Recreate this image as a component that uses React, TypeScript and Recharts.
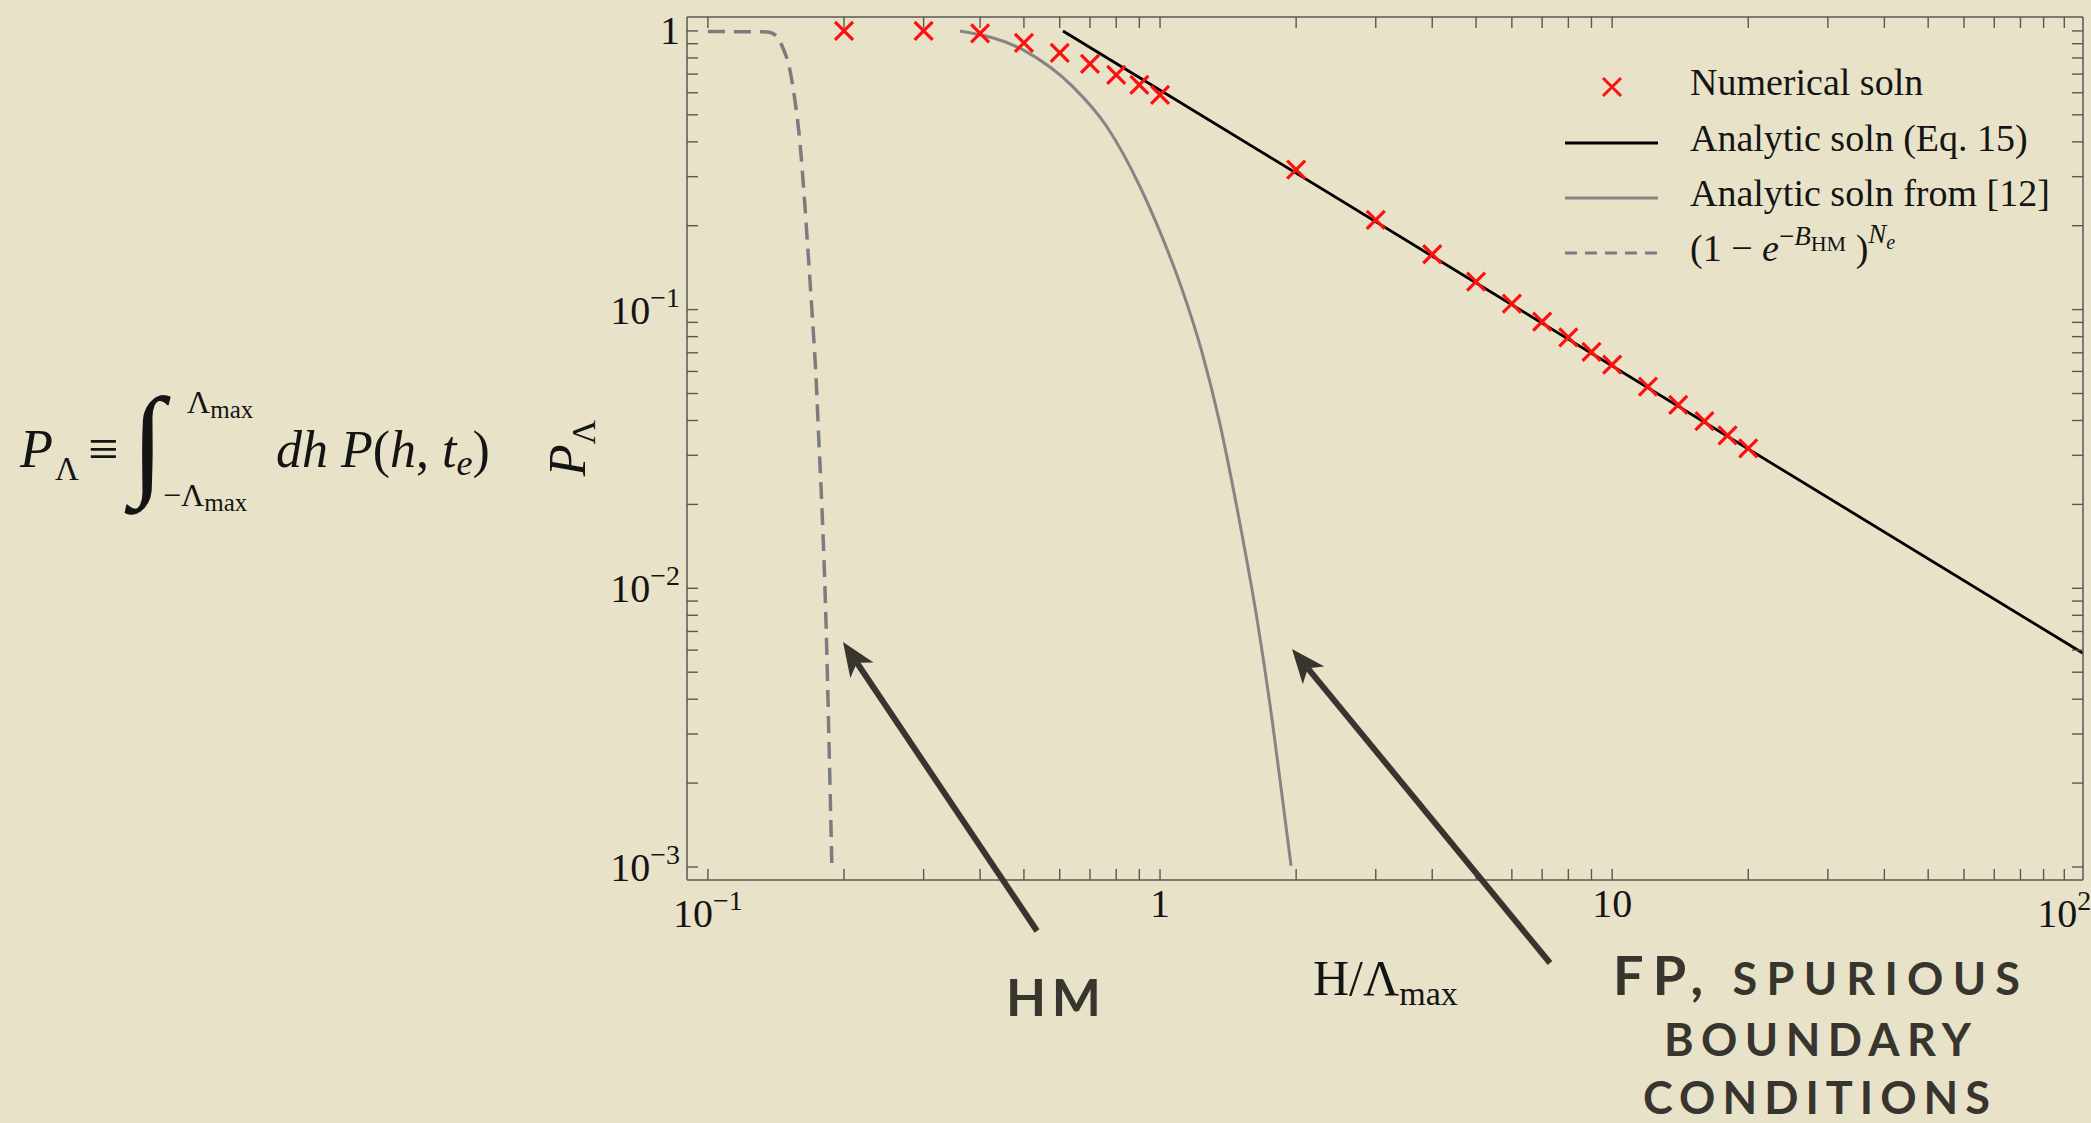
import { ComposedChart, XAxis, YAxis, Line, Scatter, Legend } from 'recharts';

// numerical solution (red crosses)
const numericalX = [0.2, 0.3, 0.4, 0.5, 0.6, 0.7, 0.8, 0.9, 1, 2, 3, 4, 5, 6, 7, 8, 9, 10, 12, 14, 16, 18, 20];
const numericalP = [
  1.0, 1.0, 0.98, 0.906, 0.834, 0.762, 0.696, 0.64, 0.59, 0.318, 0.21, 0.158, 0.126, 0.105, 0.0905, 0.0795,
  0.0705, 0.0635, 0.0529, 0.0455, 0.0398, 0.0354, 0.0318,
];

// analytic soln (Eq. 15), straight in log-log
const eq15X = [0.61, 110];
const eq15P = [1.0, 0.00585];

// analytic soln from [12]
const ref12X = [0.361, 0.498, 0.642, 0.763, 0.903, 1.01, 1.113, 1.239, 1.35, 1.496, 1.639, 1.769, 1.89, 1.949];
const ref12P = [1.0, 0.855, 0.63, 0.453, 0.276, 0.1827, 0.121, 0.0701, 0.0403, 0.0177, 0.00774, 0.00339, 0.00149, 0.00101];

// (1 - e^-B_HM)^N_e
const hmX = [0.1, 0.135, 0.1417, 0.1462, 0.1518, 0.1557, 0.1598, 0.1631, 0.1664, 0.1698, 0.1734, 0.176, 0.1788, 0.1824, 0.1852, 0.188];
const hmP = [0.995, 0.992, 0.96, 0.876, 0.725, 0.566, 0.397, 0.263, 0.164, 0.1, 0.0575, 0.0334, 0.0192, 0.00774, 0.00288, 0.00101];

// ticks
const xMajor = [0.1, 1, 10, 100];
const xMajorLabels = ['10|−1', '1', '10', '10|2'];
const yMajor = [0.001, 0.01, 0.1, 1];
const yMajorLabels = ['10|−3', '10|−2', '10|−1', '1'];
const minorSteps = [2, 3, 4, 5, 6, 7, 8, 9];

const legendLabels = ['Numerical soln', 'Analytic soln (Eq. 15)', 'Analytic soln from [12]'];

const toPoints = (xs: number[], ys: number[]) => xs.map((x, i) => ({ x, y: ys[i] }));
const withMinors = (major: number[]) =>
  [...major, ...major.slice(0, -1).flatMap((d) => minorSteps.map((m) => Number((d * m).toPrecision(3))))].sort(
    (a, b) => a - b,
  );

const numericalData = toPoints(numericalX, numericalP);
const eq15Data = toPoints(eq15X, eq15P);
const ref12Data = toPoints(ref12X, ref12P);
const hmData = toPoints(hmX, hmP);
const xTicks = withMinors(xMajor);
const yTicks = withMinors(yMajor);

const W = 2091;
const H = 1123;
const BG = '#e8e3c8';
const FRAME = '#5a5852';
const INK = '#141414';
const DARK = '#38352f';
const SERIF = '"Liberation Serif", "Times New Roman", serif';
const SANS = 'Lato, "Open Sans", sans-serif';
const TICK = 11;
const X_DOMAIN: [number, number] = [0.0899, 110];
const Y_DOMAIN: [number, number] = [0.000898, 1.122];

function TickLabel({ x, y, label, anchor }: { x: number; y: number; label: string; anchor: 'middle' | 'end' }) {
  const [base, exp] = label.split('|');
  return (
    <text x={x} y={y} textAnchor={anchor} fontFamily={SERIF} fontSize={40} fill={INK}>
      {base}
      {exp && (
        <tspan fontSize={28} dy={-17}>
          {exp}
        </tspan>
      )}
    </text>
  );
}

function BottomTick(props: any) {
  const { x, y, payload } = props;
  const i = xMajor.indexOf(payload.value);
  const label = i >= 0 ? xMajorLabels[i] : null;
  return (
    <g>
      <line x1={x} x2={x} y1={y} y2={y - TICK} stroke={FRAME} strokeWidth={1.4} />
      {label && <TickLabel x={x} y={y + (label.includes('|') ? 47 : 37)} label={label} anchor="middle" />}
    </g>
  );
}

function TopTick(props: any) {
  const { x, y } = props;
  return <line x1={x} x2={x} y1={y} y2={y + TICK} stroke={FRAME} strokeWidth={1.4} />;
}

function LeftTick(props: any) {
  const { x, y, payload } = props;
  const i = yMajor.indexOf(payload.value);
  const label = i >= 0 ? yMajorLabels[i] : null;
  return (
    <g>
      <line x1={x} x2={x + TICK} y1={y} y2={y} stroke={FRAME} strokeWidth={1.4} />
      {label && <TickLabel x={x - 7} y={y + (label.includes('|') ? 14 : 13)} label={label} anchor="end" />}
    </g>
  );
}

function RightTick(props: any) {
  const { x, y } = props;
  return <line x1={x} x2={x - TICK} y1={y} y2={y} stroke={FRAME} strokeWidth={1.4} />;
}

function Cross(props: any) {
  const { cx, cy } = props;
  const r = 9;
  return (
    <path
      d={`M${cx - r},${cy - r}L${cx + r},${cy + r}M${cx + r},${cy - r}L${cx - r},${cy + r}`}
      stroke="#ff1010"
      strokeWidth={3.2}
      fill="none"
    />
  );
}

function LegendBox() {
  const rowY = [47, 103, 158, 213];
  const textX = 150;
  return (
    <svg width={540} height={250} style={{ overflow: 'visible' }}>
      <path d={`M63,38L81,56M81,38L63,56`} stroke="#ff1010" strokeWidth={3} />
      <line x1={25} x2={118} y1={rowY[1]} y2={rowY[1]} stroke="#000" strokeWidth={3} />
      <line x1={25} x2={118} y1={rowY[2]} y2={rowY[2]} stroke="#858585" strokeWidth={3} />
      <line x1={25} x2={118} y1={rowY[3]} y2={rowY[3]} stroke="#7c7c80" strokeWidth={3} strokeDasharray="12 8" />
      {legendLabels.map((t, i) => (
        <text key={t} x={textX} y={rowY[i] + 8} fontFamily={SERIF} fontSize={38} fill={INK}>
          {t}
        </text>
      ))}
      <text x={textX} y={rowY[3] + 8} fontFamily={SERIF} fontSize={38} fill={INK}>
        (1 − <tspan fontStyle="italic">e</tspan>
        <tspan fontSize={27} dy={-16}>
          −<tspan fontStyle="italic">B</tspan>
        </tspan>
        <tspan fontSize={22} dy={6}>
          HM
        </tspan>
        <tspan dy={10}> )</tspan>
        <tspan fontSize={27} fontStyle="italic" dy={-18}>
          N
        </tspan>
        <tspan fontSize={20} fontStyle="italic" dy={6}>
          e
        </tspan>
      </text>
    </svg>
  );
}

const arrows = [
  { from: [1037, 931], to: [843, 642] },
  { from: [1550, 963], to: [1292, 649] },
];

function Arrow({ from, to }: { from: number[]; to: number[] }) {
  const dx = to[0] - from[0];
  const dy = to[1] - from[1];
  const len = Math.hypot(dx, dy);
  const ux = dx / len;
  const uy = dy / len;
  const L = 34;
  const hw = 14;
  const bx = to[0] - ux * L;
  const by = to[1] - uy * L;
  const nx = to[0] - ux * (L - 9);
  const ny = to[1] - uy * (L - 9);
  const head = `M${to[0]},${to[1]}L${bx - uy * hw},${by + ux * hw}L${nx},${ny}L${bx + uy * hw},${by - ux * hw}Z`;
  return (
    <g>
      <line x1={from[0]} y1={from[1]} x2={nx} y2={ny} stroke={DARK} strokeWidth={6} />
      <path d={head} fill={DARK} />
    </g>
  );
}

function Overlay() {
  return (
    <svg width={W} height={H} style={{ position: 'absolute', left: 0, top: 0, pointerEvents: 'none' }}>
      {/* formula */}
      <g fontFamily={SERIF} fill={INK}>
        <text x={20} y={467} fontSize={54} fontStyle="italic">
          P
        </text>
        <text x={55} y={480} fontSize={33}>
          Λ
        </text>
        <text x={88} y={467} fontSize={54}>
          ≡
        </text>
        <text x={131} y={482} fontSize={122}>
          ∫
        </text>
        <text x={187} y={413} fontSize={32}>
          Λ<tspan fontSize={25} dy={5}>max</tspan>
        </text>
        <text x={163} y={506} fontSize={32}>
          −Λ<tspan fontSize={25} dy={5}>max</tspan>
        </text>
        <text x={276} y={467} fontSize={52}>
          <tspan fontStyle="italic">dh P</tspan>(<tspan fontStyle="italic">h</tspan>,{' '}
          <tspan fontStyle="italic">t</tspan>
          <tspan fontStyle="italic" fontSize={36} dy={8}>
            e
          </tspan>
          <tspan dy={-8}>)</tspan>
        </text>
      </g>

      {/* axis labels */}
      <text transform="translate(585,448) rotate(-90)" textAnchor="middle" fontFamily={SERIF} fontSize={52} fill={INK}>
        <tspan fontStyle="italic">P</tspan>
        <tspan fontSize={34} dy={10}>
          Λ
        </tspan>
      </text>
      <text x={1313} y={995} fontFamily={SERIF} fontSize={50} fill={INK}>
        H/Λ
        <tspan fontSize={34} dy={10}>
          max
        </tspan>
      </text>

      {/* annotations */}
      <g fontFamily={SANS} fontWeight={700} fill={DARK}>
        <text x={1006} y={1016} fontSize={52} textLength={95} lengthAdjust="spacing">
          HM
        </text>
        <text x={1613} y={995} fontSize={45} textLength={407} lengthAdjust="spacing">
          <tspan fontSize={54}>FP,</tspan> SPURIOUS
        </text>
        <text x={1664} y={1056} fontSize={45} textLength={307} lengthAdjust="spacing">
          BOUNDARY
        </text>
        <text x={1643} y={1114} fontSize={45} textLength={347} lengthAdjust="spacing">
          CONDITIONS
        </text>
      </g>
      {arrows.map((a, i) => (
        <Arrow key={i} from={a.from} to={a.to} />
      ))}
    </svg>
  );
}

export default function App() {
  return (
    <div style={{ position: 'absolute', left: 0, top: 0, width: W, height: H, background: BG, overflow: 'hidden' }}>
      <ComposedChart width={W} height={H} margin={{ top: 16, right: 7, bottom: 183, left: 607 }}>
        <XAxis
          dataKey="x"
          type="number"
          scale="log"
          domain={X_DOMAIN}
          allowDataOverflow
          ticks={xTicks}
          interval={0}
          height={60}
          tickSize={0}
          tickMargin={0}
          tickLine={false}
          axisLine={{ stroke: FRAME, strokeWidth: 1.5 }}
          tick={(p: any) => <BottomTick {...p} />}
        />
        <XAxis
          xAxisId="top"
          orientation="top"
          dataKey="x"
          type="number"
          scale="log"
          domain={X_DOMAIN}
          allowDataOverflow
          ticks={xTicks}
          interval={0}
          height={1}
          tickSize={0}
          tickMargin={0}
          tickLine={false}
          axisLine={{ stroke: FRAME, strokeWidth: 1.5 }}
          tick={(p: any) => <TopTick {...p} />}
        />
        <YAxis
          dataKey="y"
          type="number"
          scale="log"
          domain={Y_DOMAIN}
          allowDataOverflow
          ticks={yTicks}
          interval={0}
          width={80}
          tickSize={0}
          tickMargin={0}
          tickLine={false}
          axisLine={{ stroke: FRAME, strokeWidth: 1.5 }}
          tick={(p: any) => <LeftTick {...p} />}
        />
        <YAxis
          yAxisId="right"
          orientation="right"
          dataKey="y"
          type="number"
          scale="log"
          domain={Y_DOMAIN}
          allowDataOverflow
          ticks={yTicks}
          interval={0}
          width={1}
          tickSize={0}
          tickMargin={0}
          tickLine={false}
          axisLine={{ stroke: FRAME, strokeWidth: 1.5 }}
          tick={(p: any) => <RightTick {...p} />}
        />
        <Line
          data={hmData}
          dataKey="y"
          type="monotone"
          stroke="#7c7c80"
          strokeWidth={3.5}
          strokeDasharray="17 9"
          dot={false}
          isAnimationActive={false}
        />
        <Line
          data={ref12Data}
          dataKey="y"
          type="monotone"
          stroke="#858585"
          strokeWidth={3}
          dot={false}
          isAnimationActive={false}
        />
        <Line data={eq15Data} dataKey="y" type="linear" stroke="#000" strokeWidth={2.8} dot={false} isAnimationActive={false} />
        <Scatter data={numericalData} dataKey="y" shape={(p: any) => <Cross {...p} />} isAnimationActive={false} />
        <Legend
          layout="vertical"
          align="center"
          verticalAlign="middle"
          wrapperStyle={{ left: 1540, top: 40, width: 540, height: 250 }}
          content={() => <LegendBox />}
        />
      </ComposedChart>
      <Overlay />
    </div>
  );
}
